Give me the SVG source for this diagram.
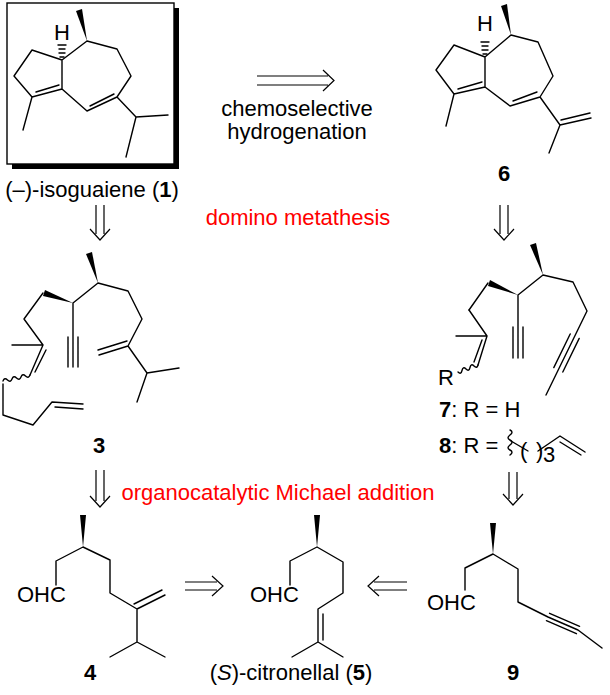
<svg xmlns="http://www.w3.org/2000/svg" width="610" height="695" viewBox="0 0 610 695">
<style>
.b{fill:none;stroke:#000;stroke-width:1.4;stroke-linecap:round;stroke-linejoin:round}
.w{fill:#000;stroke:none}
.t{font-family:"Liberation Sans",Arial,sans-serif;font-size:22px;fill:#000}
.r{font-family:"Liberation Sans",Arial,sans-serif;font-size:22px;fill:#ff0000}
.bd{font-weight:bold}
.ar{fill:none;stroke:#000;stroke-width:1.2}
</style>
<rect width="610" height="695" fill="#fff"/>
<g id="connectors">
<path class="ar" d="M257 76 H328 M257 85 H328 M323 70 L334 80.5 L323 91"/>
<path class="ar" d="M96 205 V234 M104 205 V234 M90 229 L100 240 L110 229"/>
<path class="ar" d="M500 205 V234 M508 205 V234 M494 229 L504 240 L514 229"/>
<path class="ar" d="M96 470 V501 M104 470 V501 M90 496 L100 507 L110 496"/>
<path class="ar" d="M509 472 V499 M517 472 V499 M503 494 L513 505 L523 494"/>
<path class="ar" d="M185 582 H217 M185 590 H217 M212 576 L223 586 L212 596"/>
<path class="ar" d="M407 582 H374 M407 590 H374 M379 576 L368 586 L379 596"/>
</g>
<g id="node1">
<rect x="12" y="8" width="167" height="161" fill="#000"/>
<rect x="7" y="3" width="167" height="161" fill="#fff" stroke="#000" stroke-width="1.4"/>
<path class="b" d="M62 60 L87 41 L117 49 L131 76 L117 97 L87 111 L62 89 Z M62 60 L32 50 L14 76 L32 97 L62 89 M36 92 L59 85 M90 106 L114 94 M32 97 L23 130 M117 97 L136 117 L168 115 M136 117 L126 157"/>
<polygon class="w" points="87,41 76,11 82,9"/>
<path class="b" d="M60 57 H64 M59 53 H65 M59 49 H65 M58 45 H66"/>
<text class="t" x="62" y="40" text-anchor="middle">H</text>
<text class="t" x="92" y="197" text-anchor="middle">(–)-isoguaiene (<tspan class="bd">1</tspan>)</text>
</g>
<g id="step1">
<text class="t" x="297" y="116" text-anchor="middle">chemoselective</text>
<text class="t" x="297" y="139" text-anchor="middle">hydrogenation</text>
<text class="r" x="298" y="225" text-anchor="middle">domino metathesis</text>
<text class="r" x="278" y="500" text-anchor="middle">organocatalytic Michael addition</text>
</g>
<g id="node6">
<path class="b" d="M485 57 L511 35 L538 42 L553 76 L540 97 L510 106 L485 87 Z M485 57 L454 45 L436 70 L454 94 L485 87 M458 89 L482 82 M513 101 L537 92 M454 94 L446 126 M540 97 L560 125 L591 118 M561 120 L590 113 M560 125 L549 153"/>
<polygon class="w" points="511,35 501,6 507,4"/>
<path class="b" d="M483 54 H487 M482 50 H488 M482 46 H488 M481 42 H489"/>
<text class="t" x="485" y="31" text-anchor="middle">H</text>
<text class="t bd" x="504" y="181" text-anchor="middle">6</text>
</g>
<g id="node3">
<polygon class="w" points="98,283 86,254 92,252"/>
<path class="b" d="M98 283 L128 291 L142 319 L128 346 L99 355 M127 341 L98 350 M128 346 L147 373 L179 368 M147 373 L137 402 M98 283 L73 303 L73 367 M68 337 V367 M78 337 V367 M43 345 L24 319 L43 293 M43 345 L12 345 M43 345 L30 375 M46 350 L35 372 M3 384 L3 415 L33 425 L52 402 L83 404 M55 407 L83 409"/>
<polygon class="w" points="73,303 43,296 45,290"/>
<path class="b" d="M30 375 q-1.5 4 -4.5 1 t-4.5 1 t-4.5 1 t-4.5 1 t-4.5 1 t-4.5 1"/>
<text class="t bd" x="99" y="453" text-anchor="middle">3</text>
</g>
<g id="node78">
<polygon class="w" points="543,275 530,245 536,243"/>
<path class="b" d="M543 275 L573 282 L587 311 L546 395 M579.2 338.4 L562.8 372 M570.2 334 L553.8 367.6 M543 275 L518 295 L518 358 M513 327 V358 M523 327 V358 M469 310 L487 336 L456 336 M487 336 L478 365 M482 340 L474 362"/>
<polygon class="w" points="518,295 488,286 490,280"/>
<path class="b" d="M478 365 q-1 4 -4 1 t-4 1.5 t-4 1.5 t-4 1.5 t-4 1.5"/>
<path class="b" d="M469 310 L488 283"/>
<text class="t" x="446" y="385" text-anchor="middle">R</text>
<text class="t" x="439" y="417"><tspan class="bd">7</tspan>: R = H</text>
<text class="t" x="439" y="453"><tspan class="bd">8</tspan>: R =</text>
<path class="b" d="M510 430 q4 2 0 5 t0 5 t0 5 t0 5 t0 5"/>
<path class="b" d="M511 441 L528 451"/>
<text class="t" x="520" y="458" font-size="18">(</text>
<text class="t" x="536" y="458" font-size="18">)</text>
<text class="t" x="543" y="462" font-size="15">3</text>
<path class="b" d="M538 451 L560 436 L585 452 M560 442 L581 455"/>
</g>
<g id="node4">
<polygon class="w" points="83,547 80,515 86,515"/>
<path class="b" d="M83 547 L56 561 L56 585 M83 547 L110 560 L110 593 L137 609 L165 595 M134 604 L162 590 M137 609 L137 642 L110 657 M137 642 L165 657"/>
<text class="t" x="17" y="602">OHC</text>
<text class="t bd" x="90" y="680" text-anchor="middle">4</text>
</g>
<g id="node5">
<polygon class="w" points="317,547 314,515 320,515"/>
<path class="b" d="M317 547 L290 561 L290 585 M317 547 L343 562 L343 593 L318 609 L318 642 L292 657 M323 614 L323 640 M318 642 L343 657"/>
<text class="t" x="250" y="602">OHC</text>
<text class="t" x="291" y="680" text-anchor="middle">(<tspan font-style="italic">S</tspan>)-citronellal (<tspan class="bd">5</tspan>)</text>
</g>
<g id="node9">
<polygon class="w" points="493,554 490,523 496,523"/>
<path class="b" d="M493 554 L465 568 L465 590 M493 554 L518 569 L518 602 L548 617 L578 630 L602 648 M546.4 620.7 L576.4 633.7 M549.6 613.3 L579.6 626.3"/>
<text class="t" x="427" y="610">OHC</text>
<text class="t bd" x="513" y="680" text-anchor="middle">9</text>
</g>
</svg>
